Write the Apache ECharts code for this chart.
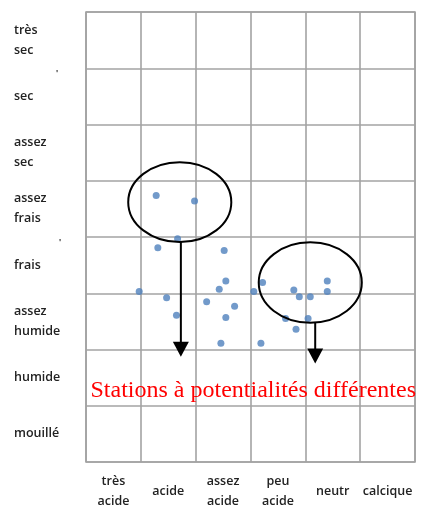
<!DOCTYPE html>
<html>
<head>
<meta charset="utf-8">
<script src="https://cdn.jsdelivr.net/npm/echarts@6/dist/echarts.min.js"></script>
<style>
  html, body { margin: 0; padding: 0; background: #fff; }
  #chart { width: 424px; height: 511px; }
</style>
</head>
<body>
<div id="chart"></div>
<script>
// soil pH columns (left to right) and moisture rows (top to bottom)
const phLabels = ['très\nacide', 'acide', 'assez\nacide', 'peu\nacide', 'neutr', 'calcique'];
const moistureLabels = ['très\nsec', 'sec', 'assez\nsec', 'assez\nfrais', 'frais', 'assez\nhumide', 'humide', 'mouillé'];

// stations: x = pH position (0..6), y = moisture position (0 = bottom, 8 = top)
const stationX = [1.28, 1.98, 1.67, 1.31, 2.52, 2.55, 2.43, 0.97, 1.47, 2.20, 2.71, 1.65, 2.55,
                  2.46, 3.22, 3.06, 3.79, 3.89, 4.09, 4.40, 4.40, 3.64, 4.05, 3.83, 3.19];
const stationY = [4.74, 4.64, 3.97, 3.81, 3.76, 3.22, 3.07, 3.03, 2.92, 2.85, 2.77, 2.61, 2.57,
                  2.11, 3.19, 3.03, 3.06, 2.94, 2.94, 3.22, 3.03, 2.55, 2.55, 2.36, 2.11];

// annotations, in the same data units
const circleCenters = [[1.71, 4.62], [4.09, 3.19]];
const circleRadii = [[0.94, 0.71], [0.94, 0.715]];
const arrowFrom = [[1.73, 3.92], [4.18, 2.48]];
const arrowTo = [[1.73, 1.87], [4.18, 1.75]];
const noteText = 'Stations à potentialités différentes';
const notePos = [3.05, 1.27];

const chart = echarts.init(document.getElementById('chart'));

const gridLine = { show: true, lineStyle: { color: '#a3a3a3', width: 1.6 } };
const labelFont = { fontFamily: 'Open Sans', fontSize: 12.5, fontWeight: 600, color: '#222', lineHeight: 20 };

chart.setOption({
    animation: false,
    grid: { left: 86, top: 12, right: 9, bottom: 48, show: true, borderColor: '#a3a3a3', borderWidth: 1.6 },
    xAxis: [
        { type: 'value', min: 0, max: 6, interval: 1, axisLabel: { show: false },
          axisLine: { show: false }, axisTick: { show: false }, splitLine: gridLine },
        { type: 'category', data: phLabels, position: 'bottom', boundaryGap: true,
          axisLine: { show: false }, axisTick: { show: false }, splitLine: { show: false },
          axisLabel: Object.assign({ margin: 29, verticalAlign: 'middle', interval: 0 }, labelFont) }
    ],
    yAxis: [
        { type: 'value', min: 0, max: 8, interval: 1, axisLabel: { show: false },
          axisLine: { show: false }, axisTick: { show: false }, splitLine: gridLine },
        { type: 'category', data: moistureLabels, position: 'left', inverse: true, boundaryGap: true,
          axisLine: { show: false }, axisTick: { show: false }, splitLine: { show: false },
          axisLabel: Object.assign({ margin: 72, align: 'left', interval: 0 }, labelFont) }
    ],
    series: [{
        type: 'scatter',
        xAxisIndex: 0,
        yAxisIndex: 0,
        symbolSize: 7,
        itemStyle: { color: '#4f81bd' },
        data: stationX.map((x, i) => [x, stationY[i]])
    }]
});

// draw the circles, arrows and note from data units
const px = p => chart.convertToPixel({ xAxisIndex: 0, yAxisIndex: 0 }, p);
const unit = px([1, 1]), origin = px([0, 0]);
const ux = unit[0] - origin[0], uy = origin[1] - unit[1];

const graphics = [];
circleCenters.forEach((c, i) => {
    const p = px(c);
    graphics.push({
        type: 'ellipse', z: 10,
        shape: { cx: p[0], cy: p[1], rx: circleRadii[i][0] * ux, ry: circleRadii[i][1] * uy },
        style: { fill: null, stroke: '#000', lineWidth: 2 }
    });
});
arrowFrom.forEach((a, i) => {
    const p1 = px(a), p2 = px(arrowTo[i]);
    graphics.push({
        type: 'line', z: 10,
        shape: { x1: p1[0], y1: p1[1], x2: p2[0], y2: p2[1] - 12 },
        style: { stroke: '#000', lineWidth: 2 }
    });
    graphics.push({
        type: 'polygon', z: 10,
        shape: { points: [[p2[0] - 8, p2[1] - 15], [p2[0] + 8, p2[1] - 15], [p2[0], p2[1]]] },
        style: { fill: '#000' }
    });
});
const np = px(notePos);
graphics.push({
    type: 'text', z: 11,
    x: np[0], y: np[1],
    style: { text: noteText, fill: '#ff0000', font: '24px "Liberation Serif"', align: 'center', verticalAlign: 'middle' }
});
// stray marks next to the row labels
graphics.push({ type: 'text', x: 56, y: 70, style: { text: '\'', fill: '#222', font: 'bold 8px "Open Sans"' } });
graphics.push({ type: 'text', x: 59, y: 239, style: { text: '\'', fill: '#222', font: 'bold 8px "Open Sans"' } });

chart.setOption({ graphic: graphics });
</script>
</body>
</html>
